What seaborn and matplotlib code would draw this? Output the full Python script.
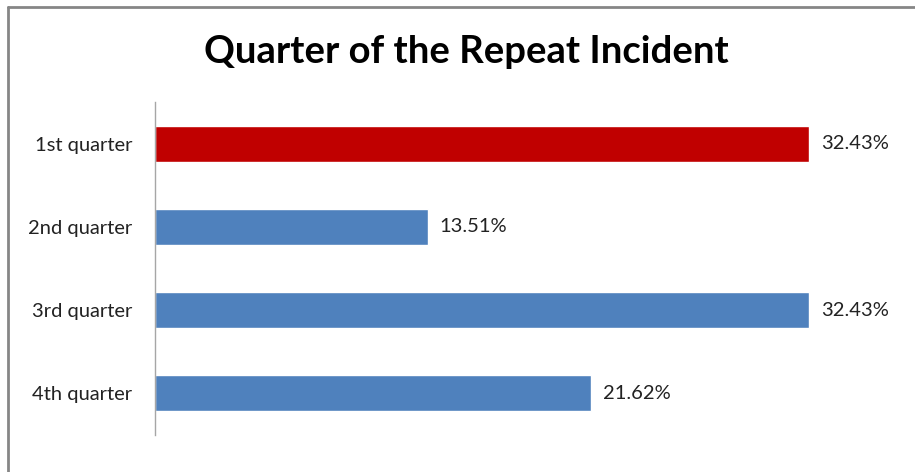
import matplotlib
matplotlib.use("Agg")
import matplotlib.pyplot as plt
import seaborn as sns
import pandas as pd
from matplotlib.lines import Line2D

# data
quarters = ["1st quarter", "2nd quarter", "3rd quarter", "4th quarter"]
shares = [32.43, 13.51, 32.43, 21.62]
bar_colors = ["#C00000", "#4F81BD", "#4F81BD", "#4F81BD"]

df = pd.DataFrame({"quarter": quarters, "share": shares})

sns.set_style("white")
plt.rcParams["font.family"] = ["Lato", "DejaVu Sans"]

fig = plt.figure(figsize=(9.15, 4.72), dpi=100)
ax = fig.add_axes([155 / 915, 37 / 472, 706 / 915, 333 / 472])

sns.barplot(data=df, x="share", y="quarter", hue="quarter", palette=bar_colors,
            legend=False, width=0.43, ax=ax, saturation=1)

ax.set_xlim(0, 35)
ax.set_ylim(3.5, -0.5)
ax.set_xlabel("")
ax.set_ylabel("")
ax.set_xticks([])
for side in ["top", "right", "bottom"]:
    ax.spines[side].set_visible(False)
ax.spines["left"].set_color("#A6A6A6")
ax.spines["left"].set_linewidth(1)
ax.tick_params(axis="y", length=0, pad=16.5, labelsize=14.5, labelcolor="#222222")

# value labels
for i, v in enumerate(shares):
    ax.text(v + 0.6, i, f"{v:.2f}%", va="center", ha="left",
            fontsize=14.5, color="#222222", clip_on=False)

fig.suptitle("Quarter of the Repeat Incident", x=0.51, y=0.925,
             fontsize=27.5, fontweight="bold", color="black")

# chart-area border (top and left visible)
fig.add_artist(Line2D([7.5 / 915, 1.0], [1 - 6.5 / 472, 1 - 6.5 / 472],
                      transform=fig.transFigure, color="#868686", lw=2))
fig.add_artist(Line2D([7.5 / 915, 7.5 / 915], [0, 1 - 6.5 / 472],
                      transform=fig.transFigure, color="#868686", lw=2))

fig.savefig("out.png", dpi=100)
